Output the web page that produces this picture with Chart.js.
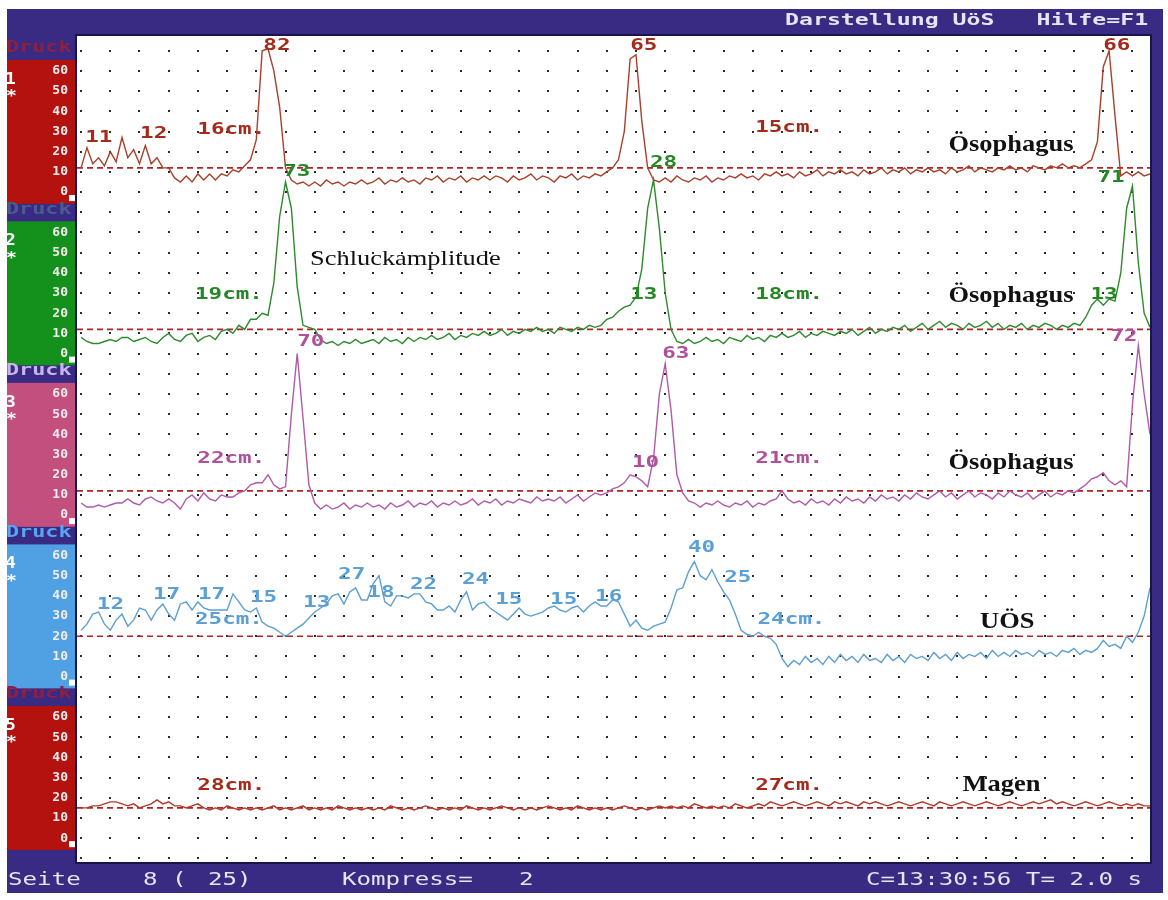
<!DOCTYPE html>
<html>
<head>
<meta charset="utf-8">
<title>Darstellung UöS</title>
<script src="https://cdn.jsdelivr.net/npm/chart.js@4.4.1/dist/chart.umd.min.js"></script>
<style>
  html, body { margin: 0; padding: 0; background: #ffffff; }
  #wrap { width: 1168px; height: 900px; }
</style>
</head>
<body>
<div id="wrap"><canvas id="manometrie" width="1168" height="900"></canvas></div>
<script>
// Druckwerte je Abtastpunkt (mmHg), Kanal 1 oben bis Kanal 5 unten
const kanal1 = [12, 22, 14, 17, 13, 20, 15, 27, 17, 21,
  14, 23, 14, 17, 12, 12, 7, 5, 8, 5,
  9, 6, 9, 6, 9, 8, 11, 10, 13, 16,
  26, 70, 71, 60, 42, 12, 6, 4, 5, 3,
  5, 3, 6, 4, 5, 3, 5, 4, 6, 4,
  5, 7, 4, 6, 5, 7, 5, 6, 4, 7,
  6, 8, 5, 7, 6, 8, 5, 7, 6, 8,
  6, 8, 7, 5, 8, 6, 7, 9, 6, 8,
  7, 5, 8, 7, 9, 6, 8, 7, 9, 8,
  10, 12, 16, 30, 66, 68, 35, 12, 6, 5,
  7, 5, 8, 6, 5, 7, 6, 8, 5, 7,
  6, 8, 7, 9, 7, 8, 6, 9, 8, 10,
  8, 9, 7, 10, 8, 9, 11, 8, 10, 9,
  11, 9, 10, 8, 11, 9, 10, 12, 9, 11,
  10, 12, 9, 11, 10, 12, 10, 11, 9, 12,
  10, 11, 13, 10, 12, 11, 10, 12, 11, 13,
  11, 12, 10, 13, 12, 11, 13, 12, 14, 12,
  13, 12, 14, 16, 25, 62, 70, 38, 8, 10,
  8, 10, 8, 9];
const kanal2 = [8, 6, 5, 5, 6, 7, 6, 8, 8, 6,
  7, 8, 6, 5, 8, 10, 7, 6, 9, 10,
  6, 8, 9, 7, 11, 12, 10, 14, 12, 17,
  17, 20, 19, 35, 68, 85, 72, 33, 14, 13,
  12, 7, 5, 6, 4, 6, 5, 7, 5, 6,
  7, 5, 8, 6, 7, 5, 8, 6, 8, 7,
  9, 7, 8, 10, 7, 9, 8, 10, 9, 11,
  9, 10, 12, 9, 11, 10, 12, 11, 13, 11,
  12, 10, 13, 12, 11, 13, 12, 14, 13, 14,
  17, 18, 21, 23, 24, 28, 42, 72, 86, 62,
  30, 12, 6, 5, 7, 5, 6, 8, 6, 7,
  5, 8, 7, 6, 9, 7, 8, 6, 9, 8,
  10, 8, 9, 11, 8, 10, 9, 11, 10, 9,
  11, 10, 12, 9, 11, 13, 10, 12, 11, 13,
  12, 14, 11, 13, 15, 12, 14, 16, 13, 15,
  14, 12, 15, 13, 14, 16, 13, 15, 12, 14,
  13, 15, 12, 14, 13, 15, 14, 12, 14, 13,
  15, 14, 18, 24, 27, 24, 27, 26, 40, 72,
  83, 45, 20, 13];
const kanal3 = [6, 4, 4, 5, 4, 5, 6, 6, 8, 6,
  5, 8, 9, 7, 6, 8, 6, 3, 8, 10,
  7, 11, 8, 7, 10, 9, 9, 11, 12, 15,
  16, 16, 20, 15, 13, 14, 50, 80, 48, 15,
  6, 3, 5, 3, 4, 6, 3, 5, 4, 6,
  4, 5, 3, 6, 4, 5, 7, 4, 6, 5,
  7, 4, 6, 5, 7, 5, 6, 8, 5, 7,
  6, 8, 5, 7, 6, 8, 7, 6, 9, 7,
  8, 7, 9, 6, 8, 10, 7, 9, 11, 10,
  11, 13, 14, 16, 20, 19, 17, 14, 28, 60,
  75, 52, 20, 11, 7, 6, 4, 6, 5, 7,
  5, 4, 6, 5, 7, 4, 6, 5, 7, 8,
  12, 8, 6, 7, 5, 8, 6, 7, 5, 8,
  6, 9, 7, 8, 6, 9, 7, 10, 8, 9,
  7, 10, 8, 11, 9, 8, 10, 12, 9, 11,
  8, 10, 12, 9, 11, 10, 8, 11, 9, 12,
  10, 9, 11, 8, 10, 12, 9, 11, 10, 12,
  11, 13, 15, 18, 19, 21, 17, 15, 17, 14,
  55, 84, 60, 40];
const kanal4 = [23, 26, 31, 32, 26, 23, 28, 31, 25, 28,
  34, 33, 28, 33, 36, 31, 28, 36, 37, 33,
  37, 34, 33, 33, 33, 33, 41, 37, 33, 32,
  34, 27, 25, 24, 22, 20, 22, 24, 26, 29,
  32, 34, 36, 40, 41, 36, 42, 44, 38, 38,
  46, 50, 37, 35, 40, 40, 39, 41, 41, 37,
  36, 33, 33, 35, 32, 38, 42, 33, 36, 37,
  34, 32, 30, 28, 31, 34, 31, 30, 31, 32,
  34, 35, 33, 32, 34, 35, 32, 35, 37, 35,
  35, 38, 37, 31, 25, 28, 24, 23, 25, 26,
  27, 34, 43, 44, 52, 57, 50, 48, 53, 47,
  42, 38, 31, 23, 21, 20, 22, 20, 19, 16,
  9, 5, 8, 6, 10, 7, 9, 6, 10, 7,
  11, 8, 10, 7, 11, 8, 9, 7, 11, 8,
  10, 7, 11, 9, 10, 8, 12, 9, 11, 8,
  12, 9, 11, 10, 12, 9, 13, 10, 12, 10,
  13, 11, 12, 10, 13, 11, 12, 10, 13, 12,
  14, 11, 13, 12, 14, 18, 15, 16, 14, 20,
  17, 22, 30, 44];
const kanal5 = [15, 15, 16, 16, 17, 18, 18, 17, 16, 17,
  15, 16, 17, 19, 17, 18, 16, 16, 15, 16,
  17, 15, 14, 15, 14, 16, 15, 14, 15, 14,
  15, 14, 15, 16, 14, 15, 14, 15, 16, 14,
  15, 14, 15, 14, 16, 15, 14, 15, 14, 15,
  14, 15, 14, 16, 15, 14, 15, 14, 15, 16,
  15, 14, 15, 14, 15, 14, 16, 15, 14, 15,
  14, 15, 16, 15, 14, 15, 14, 15, 14, 15,
  16, 15, 14, 15, 14, 16, 15, 14, 15, 14,
  15, 14, 15, 16, 15, 14, 15, 14, 15, 16,
  15, 16, 15, 16, 15, 17, 16, 15, 16, 15,
  16, 15, 17, 16, 15, 16, 17, 16, 18, 17,
  16, 17, 18, 17, 16, 17, 18, 17, 16, 18,
  17, 18, 17, 16, 18, 17, 18, 17, 16, 17,
  18, 17, 16, 17, 18, 17, 16, 18, 17, 16,
  17, 18, 17, 16, 17, 18, 17, 16, 17, 18,
  17, 16, 17, 18, 17, 18, 19, 17, 18, 17,
  16, 17, 18, 17, 16, 17, 18, 17, 16, 17,
  16, 17, 16, 16];

// Ruhedruck-Linien (gestrichelt) je Kanal
const schwellen = [12, 12, 12, 20, 15];
// Skalenbeschriftung je Kanal
const druckTicks = [0, 10, 20, 30, 40, 50, 60];

// Markierungen: [kanal, abtastpunkt, druck, text]
const marken = [
  [0, 0.7, 27, '11'], [0, 10.1, 29, '12'], [0, 19.9, 31, '16cm.'], [0, 31.2, 72.5, '82'],
  [0, 94.0, 72.5, '65'], [0, 115.4, 32, '15cm.'], [0, 175.0, 72.5, '66'],
  [1, 34.6, 90, '73'], [1, 19.5, 29, '19cm.'], [1, 97.4, 94.5, '28'], [1, 94.0, 29, '13'],
  [1, 115.4, 29, '18cm.'], [1, 172.8, 29, '13'], [1, 174.0, 87, '71'],
  [2, 37.0, 86, '70'], [2, 19.9, 28, '22cm.'], [2, 94.3, 26, '10'], [2, 99.5, 80, '63'],
  [2, 115.4, 28, '21cm.'], [2, 176.2, 88.5, '72'],
  [3, 2.7, 35.5, '12'], [3, 12.3, 40.5, '17'], [3, 20.0, 40.5, '17'], [3, 28.9, 39, '15'],
  [3, 19.5, 28, '25cm.'], [3, 38.0, 36.5, '13'], [3, 44.0, 50.5, '27'], [3, 49.0, 41.5, '18'],
  [3, 56.3, 45.5, '22'], [3, 65.2, 48, '24'], [3, 70.9, 38, '15'], [3, 80.3, 38, '15'],
  [3, 88.0, 39.5, '16'], [3, 103.9, 64, '40'], [3, 110.1, 49, '25'], [3, 115.8, 28, '24cm.'],
  [4, 19.9, 26, '28cm.'], [4, 115.4, 26, '27cm.']
];
// Handschriftliche Zusätze (schwarz)
const notizen = [
  [0, 148.5, 23.3, 'Ösophagus', true], [1, 148.5, 28.7, 'Ösophagus', true],
  [2, 148.5, 25.7, 'Ösophagus', true], [3, 153.9, 27.2, 'UÖS', true],
  [4, 150.9, 26.2, 'Magen', true], [1, 39.2, 46.5, 'Schluckamplitude', false]
];

const kanaele = [kanal1, kanal2, kanal3, kanal4, kanal5];
const versatz = [320, 240, 160, 80, 0];   // jeder Kanal bekommt 80 mmHg Höhe
const linienFarben = ['#a8402c', '#2d8a2d', '#b05aa8', '#5d9fd0', '#b03a2a'];
const textFarben = ['#a52a1a', '#238823', '#b0509a', '#5a9fd5', '#a52a1a'];
const feldFarben = ['#b3120e', '#13911c', '#c24f7e', '#4fa1e3', '#b3120e'];
const druckFarben = ['#8c1f45', '#4a5c8e', '#c8b4ec', '#58a4f0', '#8c1f45'];
const LILA = '#392a84';
const MONO = '"DejaVu Sans Mono", monospace';

// Text horizontal gestreckt zeichnen (breite Bildschirmschrift)
function breit(ctx, text, x, y, sx) {
  ctx.save();
  ctx.translate(x, y);
  ctx.scale(sx, 1);
  ctx.fillText(text, 0, 0);
  ctx.restore();
}

const datasets = [];
kanaele.forEach((werte, k) => {
  datasets.push({
    data: werte.map((v, i) => ({ x: i, y: v + versatz[k] })),
    borderColor: linienFarben[k],
    borderWidth: 1.4,
    pointRadius: 0,
    tension: 0
  });
});
schwellen.forEach((s, k) => {
  datasets.push({
    data: [{ x: -0.7, y: s + versatz[k] }, { x: 183, y: s + versatz[k] }],
    borderColor: '#b02424',
    borderWidth: 1.6,
    borderDash: [6, 4],
    pointRadius: 0
  });
});

// Bildschirm-Rahmen, Kanalfelder, Punktraster und Texte
const bildschirm = {
  id: 'bildschirm',
  beforeDraw(chart) {
    const { ctx, chartArea: a } = chart;
    const y = chart.scales.y;
    ctx.save();
    ctx.fillStyle = '#ffffff';
    ctx.fillRect(0, 0, chart.width, chart.height);
    ctx.fillStyle = LILA;
    ctx.fillRect(7, 9, 1156, 884);
    ctx.fillStyle = '#ffffff';
    ctx.fillRect(a.left, a.top, a.right - a.left, a.bottom - a.top);
    ctx.textBaseline = 'middle';
    versatz.forEach((off, k) => {
      const oben = y.getPixelForValue(off + 65.5);
      const unten = y.getPixelForValue(off - 5.8);
      ctx.fillStyle = feldFarben[k];
      ctx.fillRect(7, oben, 68, unten - oben);
      ctx.font = 'bold 16px ' + MONO;
      ctx.fillStyle = druckFarben[k];
      breit(ctx, 'Druck', 6, y.getPixelForValue(off + 71.3), 1.36);
      ctx.fillStyle = '#ffffff';
      ctx.font = 'bold 15px ' + MONO;
      breit(ctx, String(k + 1), 5, y.getPixelForValue(off + 55.5), 1.2);
      breit(ctx, '*', 6, y.getPixelForValue(off + 47), 1.2);
      const null0 = y.getPixelForValue(off);
      ctx.fillRect(69, null0 + 3, 6, 6);
    });
    ctx.restore();
  },
  beforeDatasetsDraw(chart) {
    const { ctx } = chart;
    const { x, y } = chart.scales;
    ctx.save();
    ctx.fillStyle = '#2a2a2a';
    for (let xv = 0; xv <= 180; xv += 5) {
      const px = Math.round(x.getPixelForValue(xv));
      for (let yv = -10; yv <= 390; yv += 10) {
        const py = Math.round(y.getPixelForValue(yv));
        ctx.fillRect(px - 1, py - 1, 2, 2);
      }
    }
    ctx.restore();
  },
  afterDatasetsDraw(chart) {
    const { ctx, chartArea: a } = chart;
    const { x, y } = chart.scales;
    ctx.save();
    ctx.textBaseline = 'middle';
    ctx.textAlign = 'left';
    ctx.font = 'bold 16px ' + MONO;
    marken.forEach(([k, xv, v, t]) => {
      ctx.fillStyle = textFarben[k];
      breit(ctx, t, x.getPixelForValue(xv), y.getPixelForValue(v + versatz[k]), 1.41);
    });
    ctx.fillStyle = '#111111';
    notizen.forEach(([k, xv, v, t, fett]) => {
      ctx.font = fett ? 'bold 23px "Liberation Serif", serif' : '22px "Liberation Serif", serif';
      breit(ctx, t, x.getPixelForValue(xv), y.getPixelForValue(v + versatz[k]), fett ? 1.15 : 1.2);
    });
    // Rahmen um die Messfläche
    ctx.strokeStyle = '#16164a';
    ctx.lineWidth = 2;
    ctx.strokeRect(a.left - 1, a.top - 1, a.right - a.left + 2, a.bottom - a.top + 2);
    // Kopf- und Fußzeile
    ctx.fillStyle = '#e6e6f2';
    ctx.font = 'bold 16px ' + MONO;
    breit(ctx, 'Darstellung UöS   Hilfe=F1', 785, 21, 1.45);
    ctx.font = '17px ' + MONO;
    breit(ctx, 'Seite', 8, 881, 1.42);
    breit(ctx, '8 (', 143, 881, 1.42);
    breit(ctx, '25)', 208, 881, 1.42);
    breit(ctx, 'Kompress=', 342, 881, 1.42);
    breit(ctx, '2', 519, 881, 1.42);
    breit(ctx, 'C=13:30:56 T= 2.0 s', 866, 881, 1.42);
    ctx.restore();
  }
};

const chart = new Chart(document.getElementById('manometrie').getContext('2d'), {
  type: 'line',
  data: { datasets: datasets },
  options: {
    responsive: false,
    animation: false,
    devicePixelRatio: 1,
    layout: { padding: { left: 0, top: 36, right: 18, bottom: 38 } },
    plugins: { legend: { display: false }, tooltip: { enabled: false } },
    scales: {
      x: { type: 'linear', min: -0.7, max: 183, display: false },
      y: {
        type: 'linear',
        min: -11.8,
        max: 397.3,
        afterFit: function (scale) { scale.width = 77; },
        grid: { display: false, drawTicks: false },
        border: { display: false },
        ticks: {
          stepSize: 10,
          includeBounds: false,
          autoSkip: false,
          padding: 9,
          color: '#f4ecec',
          font: { family: 'DejaVu Sans Mono', size: 13, weight: 'bold' },
          callback: function (value) {
            const lokal = ((value % 80) + 80) % 80;
            return druckTicks.includes(lokal) ? String(lokal) : '';
          }
        }
      }
    }
  },
  plugins: [bildschirm]
});
</script>
</body>
</html>
